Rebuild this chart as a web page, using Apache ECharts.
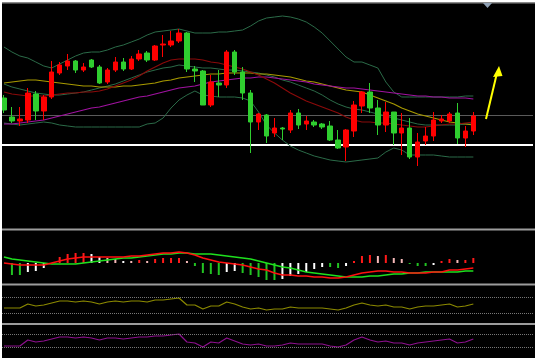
<!DOCTYPE html>
<html><head><meta charset="utf-8">
<script src="https://cdn.jsdelivr.net/npm/echarts@6/dist/echarts.min.js"></script>
<style>html,body{margin:0;padding:0;background:#fff;}#c{width:537px;height:358px;}</style>
</head><body><div id="c"></div>
<script>
const categories = ['1','2','3','4','5','6','7','8','9','10','11','12','13','14','15','16','17','18','19','20','21','22','23','24','25','26','27','28','29','30','31','32','33','34','35','36','37','38','39','40','41','42','43','44','45','46','47','48','49','50','51','52','53','54','55','56','57','58','59','60'];
const padCategories = ['61','62','63','64','65','66','67'];

const candleOpen  = [132,113,109,110,136,119,133,157,164,169,160,170,163,148,160,168,161,171,177,170,185,185,189,197,161,159,125,147,145,178,158,137,108,115,97,102,100,117,106,108,106,104,90,83,99,124,138,122,105,118,97,102,73,89,94,109,109,117,92,99];
const candleClose = [120,109,111,137,119,133,158,165,169,160,163,163,147,160,168,161,171,176,170,184,186,189,197,161,159,125,148,145,178,158,137,108,116,94,102,101,117,105,109,105,103,90,82,100,125,138,122,105,118,97,102,73,88,94,110,111,116,92,99,114];
const candleLow   = [117,107,104,107,110,110,131,155,160,157,158,162,146,146,158,159,160,169,168,169,173,183,187,158,148,125,123,133,142,155,130,77,100,87,93,90,97,101,100,103,101,89,81,69,93,117,117,95,98,85,75,71,64,85,89,107,107,86,83,95];
const candleHigh  = [135,123,123,142,139,135,169,168,176,170,167,171,165,162,173,172,174,180,179,185,195,199,201,198,164,160,155,160,180,180,163,140,117,116,112,103,120,121,114,110,107,109,100,101,129,139,147,130,128,118,117,112,97,103,118,115,118,127,104,118];

const bandUpper = [183,178,174,172,168,164,162,166,170,174,177,178,178,180,183,185,188,191,195,198,199,200,201,199,197,197,197,198,198,199,200,204,209,212,213,214,213,211,208,203,197,189,181,173,168,168,165,162,148,138,133,133,133,133,133,133,133,133,134,134];
const bandMiddle = [146,143,141,139,137,136,135,135,136,137,138,140,142,144,146,149,152,155,158,160,162,163,165,164,163,162,162,161,160,160,159,158,157,155,153,150,148,145,142,139,135,130,126,123,121,120,118,116,114,112,110,108,106,105,105,105,105,105,106,106];
const bandLower = [107,106,105,106,107,108,107,105,104,103,103,103,103,103,103,103,103,103,106,107,112,122,130,135,139,135,134,133,133,133,132,129,118,105,97,90,84,80,77,74,72,70,69,68,69,70,71,72,78,82,80,75,75,75,75,74,73,73,73,73];
const maRed = [138,136,135,134,134,134,135,136,137,137,138,138,139,141,144,147,150,154,159,163,167,170,171,171,171,170,168,167,165,163,161,158,155,151,147,142,137,133,129,126,123,120,117,113,110,108,108,107,107,106,105,104,103,103,104,105,106,106,107,108];
const maYellow = [147,148,149,150,150,149,148,147,146,145,144,144,143,143,143,144,144,145,146,147,149,150,152,153,154,155,156,156,157,157,157,157,156,156,155,154,153,151,149,148,146,144,142,140,139,138,135,132,129,126,122,119,116,114,112,110,108,107,106,105];
const maMagenta = [106,106,107,108,109,110,112,114,116,118,120,122,123,125,127,129,131,133,134,136,138,140,142,143,144,146,148,149,150,151,152,152,153,153,152,151,150,149,148,146,145,144,143,142,142,141,140,139,138,137,136,135,134,134,133,133,132,132,132,131];
const levelGray = 114.5;
const levelWhite = 85;

const macdHist = [0,-12,-12,-9,-8,-5,0,6,9,10,10,9,6,5,4,2,2,3,2,4,5,5,5,2,-3,-10,-11,-12,-9,-8,-10,-12,-14,-17,-17,-16,-13,-11,-9,-6,-4,-4,-5,-3,2,7,8,7,8,5,4,-1,-3,-3,-2,2,4,3,3,5];
const macdBarColors = ['g','g','g','w','w','w','r','r','r','r','r','w','w','p','p','w','p','r','p','r','r','r','r','p','g','g','g','g','w','w','g','g','g','g','g','w','w','w','w','w','w','g','g','w','r','r','r','p','r','p','p','g','g','g','w','r','r','p','r','r'];
const macdGreen = [6,4,3,2,1,0,-1,-1,-1,-1,0,1,2,3,4,5,5,6,7,8,9,9,10,10,9,9,9,8,7,6,5,4,2,0,-2,-4,-5,-7,-9,-10,-11,-12,-13,-14,-14,-14,-13,-13,-12,-11,-11,-10,-10,-9,-9,-9,-9,-9,-8,-8];
const macdRed = [0,-1,-2,-2,-2,-2,0,2,4,5,6,6,6,6,6,6,7,7,8,9,10,10,11,10,8,5,3,1,0,-1,-2,-4,-6,-7,-10,-12,-12,-13,-13,-14,-14,-15,-15,-14,-12,-10,-9,-8,-8,-9,-9,-10,-10,-10,-9,-9,-7,-7,-6,-5];

const osc1 = [14,14,14,18,16,17,19,21,21,20,21,20,18,20,21,20,21,21,20,22,22,23,24,17,17,13,16,16,20,18,15,13,14,12,13,13,15,14,14,14,14,13,12,14,17,19,17,16,17,15,15,13,15,16,16,17,18,15,16,18];
const osc1Levels = [25, 9];
const osc2 = [12,12,12,18,16,17,19,21,21,20,21,20,18,20,20,19,20,21,21,22,22,23,24,16,15,11,16,15,20,17,14,13,14,12,12,13,15,14,14,14,14,12,11,13,18,21,18,16,17,15,15,13,15,16,17,18,19,15,16,19];
const osc2Levels = [24, 11];

const colorMap = {r:'#ff1a1a', p:'#f5b8b8', g:'#22c422', w:'#ffffff'};
const allCats = categories.concat(padCategories);
const candles = candleOpen.map((o,i)=>[o, candleClose[i], candleLow[i], candleHigh[i]]);

const chart = echarts.init(document.getElementById('c'), null, {renderer:'canvas'});
const gridW = 8 * allCats.length;
const grids = [
  {left:-3, top:4, width:gridW, height:226},
  {left:-3, top:231, width:gridW, height:52},
  {left:-3, top:286, width:gridW, height:36},
  {left:-3, top:325, width:gridW, height:33}
];
const yRanges = [[0,226],[-20,32],[0,36],[0,33]];
function line(data, color, width, idx){
  return {type:'line', data:data, xAxisIndex:idx, yAxisIndex:idx, symbol:'none', silent:true,
    lineStyle:{color:color, width:width}, z:3};
}
function hLines(levels, color, width, type){
  return {silent:true, symbol:'none', label:{show:false},
    lineStyle:{color:color, width:width, type:type},
    data: levels.map(v=>({yAxis:v}))};
}
const option = {
  backgroundColor:'#000000',
  animation:false,
  grid: grids,
  xAxis: grids.map((g,i)=>({type:'category', gridIndex:i, data:allCats, boundaryGap:true, show:false})),
  yAxis: grids.map((g,i)=>({type:'value', gridIndex:i, min:yRanges[i][0], max:yRanges[i][1], show:false})),
  series: [
    line(bandUpper, '#2b6b48', 1, 0),
    line(bandMiddle, '#2b6b48', 1, 0),
    line(bandLower, '#2b6b48', 1, 0),
    line(maYellow, '#a89a00', 1.2, 0),
    line(maMagenta, '#a012a0', 1.2, 0),
    line(maRed, '#8a0a0a', 1.2, 0),
    {type:'candlestick', data:candles, xAxisIndex:0, yAxisIndex:0, barWidth:5, z:5,
      itemStyle:{color:'#ff0000', color0:'#2fce2f', borderColor:'#ff0000', borderColor0:'#2fce2f', borderWidth:1},
      markLine: {silent:true, symbol:'none', label:{show:false}, z:1,
        data:[{yAxis:levelGray, lineStyle:{color:'#5a5a5a', width:1, type:'solid'}},
              {yAxis:levelWhite, lineStyle:{color:'#ffffff', width:2, type:'solid'}}]}},
    {type:'bar', data:macdHist, xAxisIndex:1, yAxisIndex:1, barWidth:2, silent:true,
      itemStyle:{color:(p)=>colorMap[macdBarColors[p.dataIndex]]}},
    line(macdGreen, '#1ee01e', 1.6, 1),
    line(macdRed, '#ff1010', 1.6, 1),
    Object.assign(line(osc1, '#8c8a00', 1.2, 2), {markLine:hLines(osc1Levels, '#777777', 1, 'dotted')}),
    Object.assign(line(osc2, '#8e108e', 1.2, 3), {markLine:hLines(osc2Levels, '#777777', 1, 'dotted')})
  ],
  graphic: [
    {type:'rect', shape:{x:0,y:0,width:537,height:2}, style:{fill:'#ffffff'}, z:100},
    {type:'rect', shape:{x:0,y:2,width:535,height:1.5}, style:{fill:'#8a8a8a'}, z:100},
    {type:'rect', shape:{x:0,y:0,width:2,height:358}, style:{fill:'#ffffff'}, z:100},
    {type:'rect', shape:{x:535,y:0,width:2,height:358}, style:{fill:'#ffffff'}, z:100},
    {type:'rect', shape:{x:2,y:228.5,width:533,height:2}, style:{fill:'#9c9c9c'}, z:100},
    {type:'rect', shape:{x:2,y:283.5,width:533,height:2}, style:{fill:'#9c9c9c'}, z:100},
    {type:'rect', shape:{x:2,y:323,width:533,height:2}, style:{fill:'#9c9c9c'}, z:100},
    {type:'polygon', shape:{points:[[483,3],[492,3],[487.5,8]]}, style:{fill:'#8fa0b4'}, z:100},
    {type:'line', shape:{x1:486,y1:119,x2:496.5,y2:75}, style:{stroke:'#ffff00', lineWidth:2}, z:100},
    {type:'polygon', shape:{points:[[499,66],[493,77],[502.5,76]]}, style:{fill:'#ffff00'}, z:100}
  ]
};
chart.setOption(option);
</script></body></html>
